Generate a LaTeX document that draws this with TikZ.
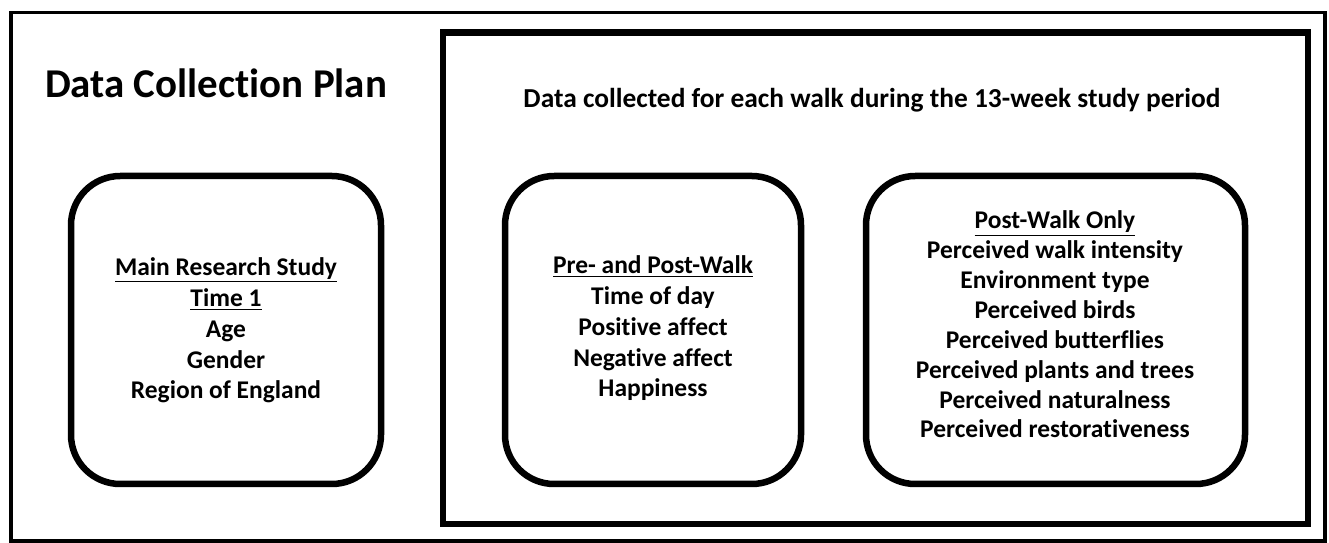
\documentclass[tikz,border=0pt]{standalone}
\usepackage{fontspec}
\setmainfont{Carlito}[Ligatures=CommonOff]
\begin{document}
\begin{tikzpicture}[x=0.02cm,y=-0.02cm,
  rbox/.style={draw=black,line width=3.7pt,rounded corners=28pt},
  frame/.style={draw=black,line width=3.7pt},
  outer/.style={draw=black,line width=1.8pt},
  body/.style={font=\bfseries\fontsize{14.5}{17.6}\selectfont,align=center,inner sep=0pt,anchor=base},
  bodyr/.style={font=\bfseries\fontsize{14.5}{17}\selectfont,align=center,inner sep=0pt,anchor=base},
]
\useasboundingbox (0,0) rectangle (1329,543);
\draw[outer] (11,12.5) rectangle (1325,541);
\draw[frame] (443,32.5) rectangle (1308,524);
\node[inner sep=0pt,font=\bfseries\fontsize{23.3}{28}\selectfont,anchor=base] (title) at (216,98) {Data Collection Plan};
\node[inner sep=0pt,font=\bfseries\fontsize{15.6}{19}\selectfont,anchor=base] (head) at (872,108) {Data collected for each walk during the 13-week study period};
\draw[rbox] (71,176) rectangle (381,484);
\draw[rbox] (505,176) rectangle (801,484);
\draw[rbox] (866,176) rectangle (1245,484);
\node[body] (t1) at (226,399) {\underline{Main Research Study}\\\underline{Time 1}\\Age\\Gender\\Region of England};
\node[body] (t2) at (653,397) {\underline{Pre- and Post-Walk}\\Time of day\\Positive affect\\Negative affect\\Happiness};
\node[bodyr] (t3) at (1055,438) {\underline{Post-Walk Only}\\Perceived walk intensity\\Environment type\\Perceived birds\\Perceived butterflies\\Perceived plants and trees\\Perceived naturalness\\Perceived restorativeness};
\end{tikzpicture}
\end{document}
